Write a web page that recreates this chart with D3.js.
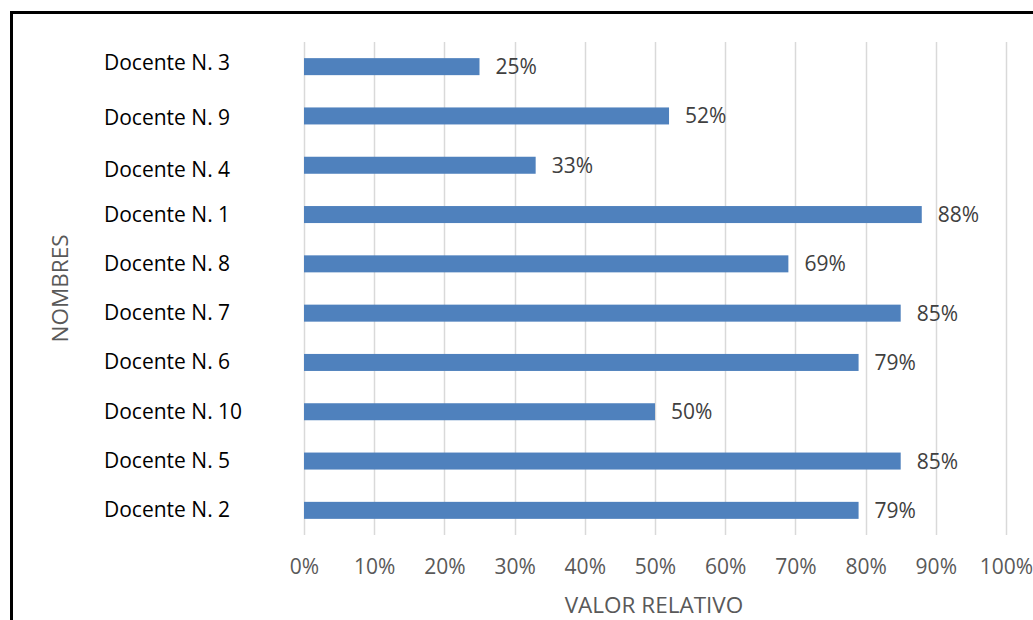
<!DOCTYPE html>
<html>
<head>
<meta charset="utf-8">
<script src="https://cdn.jsdelivr.net/npm/d3@7"></script>
<style>
  html, body { margin: 0; padding: 0; background: #fff; }
  svg { display: block; }
  text { font-family: "Open Sans", Lato, sans-serif; }
</style>
</head>
<body>
<svg id="chart" width="1033" height="620"></svg>
<script>
const categories = ["Docente N. 3", "Docente N. 9", "Docente N. 4", "Docente N. 1", "Docente N. 8",
                    "Docente N. 7", "Docente N. 6", "Docente N. 10", "Docente N. 5", "Docente N. 2"];
const values = [0.25, 0.52, 0.33, 0.88, 0.69, 0.85, 0.79, 0.50, 0.85, 0.79];
const tickValues = [0, 0.1, 0.2, 0.3, 0.4, 0.5, 0.6, 0.7, 0.8, 0.9, 1.0];
const xTitle = "VALOR RELATIVO";
const yTitle = "NOMBRES";

const svg = d3.select("#chart");
const W = 1033, H = 620;
const plot = { left: 304, right: 1006, top: 42, bottom: 535 };
const FS = 21, FS_TITLE = 22.5;
// small vertical nudges of the category labels, as in the reference layout
const labelNudge = [-3.5, 2, 5, 0.5, 0, 0, 0, 0, 0, 0];

// outer border (cropped at right/bottom like the reference)
svg.append("rect")
  .attr("x", 11.5).attr("y", 12.5)
  .attr("width", W + 20).attr("height", H + 20)
  .attr("fill", "none").attr("stroke", "#000").attr("stroke-width", 3);

const x = d3.scaleLinear().domain([0, 1]).range([plot.left, plot.right]);
const y = d3.scaleBand().domain(categories).range([plot.top, plot.bottom]).paddingInner(0.655).paddingOuter(0.3275);

// gridlines
svg.append("g").selectAll("line").data(tickValues).join("line")
  .attr("x1", d => Math.round(x(d)) + 0.5).attr("x2", d => Math.round(x(d)) + 0.5)
  .attr("y1", plot.top).attr("y2", plot.bottom)
  .attr("stroke", "#d9d9d9").attr("stroke-width", 1.5);

// x axis tick labels
const xAxis = d3.axisBottom(x).tickValues(tickValues).tickFormat(d3.format(".0%")).tickSize(0).tickPadding(0);
const gx = svg.append("g").attr("transform", `translate(0, 574)`).call(xAxis);
gx.select(".domain").remove();
gx.selectAll("text").attr("fill", "#595959").attr("font-size", FS).attr("dy", 0)
  .style("font-family", "'Open Sans', sans-serif");

// bars
svg.append("g").selectAll("rect").data(values).join("rect")
  .attr("x", x(0))
  .attr("y", (d, i) => y(categories[i]))
  .attr("width", d => x(d) - x(0))
  .attr("height", y.bandwidth())
  .attr("fill", "#4f81bd");

// value labels
svg.append("g").selectAll("text").data(values).join("text")
  .attr("x", d => x(d) + 16)
  .attr("y", (d, i) => y(categories[i]) + y.bandwidth() / 2 + 7.5)
  .attr("fill", "#404040").attr("font-size", FS)
  .text(d => d3.format(".0%")(d));

// category labels (left aligned)
svg.append("g").selectAll("text").data(categories).join("text")
  .attr("x", 104)
  .attr("y", (d, i) => y(d) + y.bandwidth() / 2 + 7 + labelNudge[i])
  .attr("fill", "#000").attr("font-size", FS)
  .text(d => d);

// axis titles
svg.append("text")
  .attr("x", 654).attr("y", 613)
  .attr("text-anchor", "middle").attr("fill", "#595959").attr("font-size", FS_TITLE)
  .text(xTitle);

svg.append("text")
  .attr("transform", `translate(68, ${(plot.top + plot.bottom) / 2}) rotate(-90)`)
  .attr("text-anchor", "middle").attr("fill", "#595959").attr("font-size", FS_TITLE)
  .text(yTitle);
</script>
</body>
</html>
